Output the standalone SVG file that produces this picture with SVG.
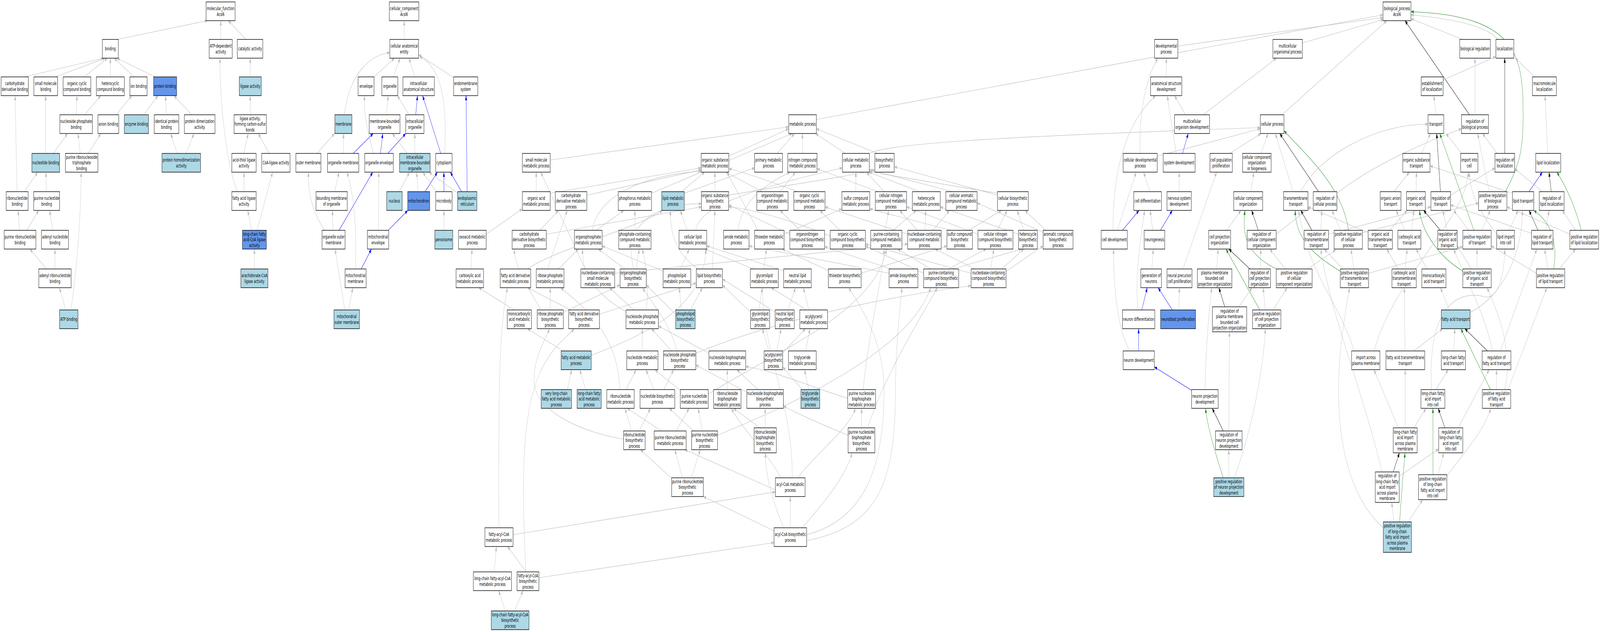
<svg xmlns="http://www.w3.org/2000/svg" width="7220" height="1619" viewBox="0 0 7220 1619" preserveAspectRatio="none">
<style>
svg{width:100vw;height:100vh}
.n rect{fill:#ffffff;stroke:#000000;stroke-width:1.4}
.n.lb rect{fill:#add8e6}
.n.cf rect{fill:#6495ed}
.n text{font-family:"DejaVu Sans","Liberation Sans",sans-serif;font-size:13px;text-anchor:middle;fill:#000000}
#edges path{fill:none;stroke:#bebebe;stroke-width:1.2;marker-end:url(#ag)}
#edges path.b{stroke:#0000ff;marker-end:url(#ab)}
#edges path.k{stroke:#000000;marker-end:url(#ak)}
#edges path.g{stroke:#228b22;marker-end:url(#agr)}
</style>
<defs>
<marker id="ag" viewBox="0 0 12 9" refX="12" refY="4.5" markerWidth="12" markerHeight="9" markerUnits="userSpaceOnUse" orient="auto"><path d="M0,0L12,4.5L0,9z" fill="#bebebe"/></marker>
<marker id="ab" viewBox="0 0 12 9" refX="12" refY="4.5" markerWidth="12" markerHeight="9" markerUnits="userSpaceOnUse" orient="auto"><path d="M0,0L12,4.5L0,9z" fill="#0000ff"/></marker>
<marker id="ak" viewBox="0 0 12 9" refX="12" refY="4.5" markerWidth="12" markerHeight="9" markerUnits="userSpaceOnUse" orient="auto"><path d="M0,0L12,4.5L0,9z" fill="#000000"/></marker>
<marker id="agr" viewBox="0 0 12 9" refX="12" refY="4.5" markerWidth="12" markerHeight="9" markerUnits="userSpaceOnUse" orient="auto"><path d="M0,0L12,4.5L0,9z" fill="#228b22"/></marker>
</defs>
<rect x="0" y="0" width="7220" height="1619" fill="#ffffff"/>
<g id="edges">
<path d="M528,101 L936,53"/>
<path d="M996,101 L996,53"/>
<path d="M1110,101 L1030,53"/>
<path d="M110,197 L468,149"/>
<path d="M250,197 L475,149"/>
<path d="M380,197 L485,149"/>
<path d="M498,197 L498,149"/>
<path d="M605,197 L515,149"/>
<path d="M700,197 L528,149"/>
<path d="M1129,197 L1129,149"/>
<path d="M345,294 L347,245"/>
<path d="M382,294 L455,245"/>
<path d="M524,294 L595,245"/>
<path d="M648,294 L713,245"/>
<path d="M750,294 L747,245"/>
<path d="M865,294 L785,245"/>
<path d="M1129,294 L1129,245"/>
<path d="M240,393 L305,342"/>
<path d="M206,393 L206,245"/>
<path d="M362,393 L352,342"/>
<path d="M398,393 L455,342"/>
<path d="M800,393 L770,342"/>
<path d="M840,393 L875,342"/>
<path d="M1100,393 L1120,342"/>
<path d="M1215,393 L1165,342"/>
<path d="M77,491 L68,245"/>
<path d="M110,491 L170,441"/>
<path d="M209,491 L207,441"/>
<path d="M1101,491 L1101,441"/>
<path d="M1071,491 C1020,420 990,250 993,149"/>
<path d="M88,590 L82,539"/>
<path d="M120,590 L175,539"/>
<path d="M238,590 L224,539"/>
<path d="M1136,590 L1118,539"/>
<path d="M1160,590 L1230,441"/>
<path d="M210,689 L135,638"/>
<path d="M248,689 L248,638"/>
<path d="M1148,689 L1148,638"/>
<path d="M297,794 L268,737"/>
<path d="M320,794 C345,700 365,560 366,441"/>
<path d="M1824,101 L1824,53"/>
<path d="M1553,294 C1580,180 1680,140 1759,135"/>
<path d="M1688,197 L1780,149"/>
<path d="M1775,197 L1805,149"/>
<path d="M1872,197 L1845,149"/>
<path d="M2047,199 L1889,140"/>
<path d="M2006,393 C2020,260 1990,170 1893,145"/>
<path d="M1742,294 L1752,245"/>
<path d="M1845,294 L1793,245"/>
<path class="b" d="M1876,294 L1884,245"/>
<path class="b" d="M1989,393 L1907,245"/>
<path class="b" d="M2108,491 L2103,245"/>
<path d="M1430,393 L1510,342"/>
<path d="M1550,393 L1550,342"/>
<path class="b" d="M1594,393 L1684,342"/>
<path class="b" d="M1717,393 L1727,342"/>
<path class="b" d="M1750,393 L1831,342"/>
<path d="M1685,393 C1650,320 1640,280 1646,245"/>
<path d="M1838,393 L1770,342"/>
<path d="M1872,393 L1872,342"/>
<path d="M1510,491 L1530,441"/>
<path d="M1802,491 L1848,441"/>
<path d="M1887,491 L1880,441"/>
<path class="b" d="M1918,491 L1974,441"/>
<path d="M1968,491 L1908,441"/>
<path class="b" d="M2003,491 L2003,441"/>
<path d="M2065,495 L1936,441"/>
<path class="b" d="M2083,491 L2032,441"/>
<path d="M1464,590 C1410,540 1390,500 1392,441"/>
<path d="M1503,590 L1500,539"/>
<path class="b" d="M1530,590 L1682,441"/>
<path class="b" d="M1752,590 L1840,539"/>
<path d="M1708,590 L1709,441"/>
<path d="M2003,590 L2003,539"/>
<path class="b" d="M1630,689 L1676,638"/>
<path d="M1604,689 C1610,600 1600,500 1565,441"/>
<path d="M1556,794 L1512,638"/>
<path d="M1573,794 L1592,737"/>
<path d="M3684,306 L6241,38"/>
<path d="M5315,118 L6241,45"/>
<path d="M5877,110 L6243,50"/>
<path d="M5785,294 L6258,53"/>
<path d="M6600,101 L6367,48"/>
<path d="M6760,101 C6700,60 6500,45 6367,38"/>
<path class="k" d="M6631,294 L6340,53"/>
<path class="g" d="M6792,492 C6860,420 6873,380 6873,300 C6873,150 6860,40 6367,30"/>
<path d="M6512,205 L6750,145"/>
<path d="M6925,197 L6838,149"/>
<path d="M6480,294 L6470,245"/>
<path d="M6656,294 L6656,149"/>
<path d="M6595,393 L6525,342"/>
<path d="M6415,393 L6455,342"/>
<path class="k" d="M6790,393 L6790,149"/>
<path d="M6756,393 L6690,342"/>
<path d="M6984,393 L6972,245"/>
<path class="b" d="M6900,491 L6960,441"/>
<path class="k" d="M7000,491 L6990,441"/>
<path class="g" d="M7135,590 C7110,530 7060,470 7025,441"/>
<path d="M7110,590 L7050,539"/>
<path d="M7084,600 L6800,530"/>
<path d="M6960,491 L6835,432"/>
<path d="M6825,495 L6453,425"/>
<path d="M6290,491 L6360,441"/>
<path d="M6390,491 L6392,441"/>
<path class="k" d="M6500,491 L6483,342"/>
<path d="M6546,500 L6746,430"/>
<path d="M6720,491 L6668,342"/>
<path d="M6033,495 C6200,420 6450,360 6595,330"/>
<path d="M5870,491 C5950,400 6200,318 6444,318"/>
<path class="g" d="M6651,590 L6497,342"/>
<path d="M6628,590 L6560,539"/>
<path d="M6685,590 L6725,539"/>
<path class="k" d="M6500,590 L6424,539"/>
<path d="M6530,590 L6511,539"/>
<path d="M6370,590 L6380,539"/>
<path d="M6340,590 L6300,539"/>
<path d="M6270,590 L6350,539"/>
<path d="M6174,596 L5902,530"/>
<path d="M6754,600 C6700,560 6630,500 6630,441"/>
<path d="M6810,590 L6850,539"/>
<path class="k" d="M6940,590 L6900,539"/>
<path d="M6975,590 L6990,539"/>
<path d="M6911,598 L6546,525"/>
<path class="g" d="M7011,689 C7030,620 7000,570 6921,539"/>
<path d="M6985,689 L6970,638"/>
<path d="M7035,689 L7110,638"/>
<path d="M6933,700 L6729,630"/>
<path class="g" d="M6085,590 C6060,480 5900,400 5794,335"/>
<path d="M6050,590 L6010,539"/>
<path d="M6148,596 L6672,520"/>
<path class="k" d="M5920,590 L5870,539"/>
<path d="M5995,600 L6457,530"/>
<path d="M5960,590 L5965,539"/>
<path d="M6060,689 L5975,638"/>
<path class="g" d="M6048,695 C5950,660 5845,620 5845,539"/>
<path d="M6176,700 L6601,632"/>
<path d="M6110,689 L6096,638"/>
<path d="M6340,689 L6350,638"/>
<path d="M6310,689 L6258,638"/>
<path d="M6440,689 L6390,638"/>
<path class="g" d="M6602,695 C6500,660 6420,600 6405,539"/>
<path d="M6640,689 L6576,630"/>
<path d="M6665,689 L6665,638"/>
<path d="M6540,794 L6500,737"/>
<path d="M6634,800 C6780,760 6870,650 6870,539"/>
<path d="M6110,899 C6050,780 5900,700 5860,539"/>
<path d="M6200,899 C6300,700 6620,560 6625,441"/>
<path d="M6380,899 L6510,842"/>
<path d="M6340,899 L6337,737"/>
<path d="M6560,899 L6565,842"/>
<path class="k" d="M6712,899 L6610,842"/>
<path d="M6735,899 C6700,800 6600,700 6560,638"/>
<path d="M6770,899 L6935,638"/>
<path d="M6753,998 L6753,947"/>
<path class="g" d="M6726,998 L6592,842"/>
<path d="M6790,998 C6830,900 6760,800 6710,737"/>
<path d="M6805,998 L6980,737"/>
<path d="M6480,998 L6535,947"/>
<path d="M6460,998 C6440,800 6560,740 6700,760 C6760,770 6790,700 6790,638"/>
<path d="M6310,1096 L6200,947"/>
<path d="M6341,1096 L6341,947"/>
<path d="M6380,1096 L6435,1046"/>
<path class="k" d="M6520,1096 L6490,1046"/>
<path d="M6580,1096 L6720,947"/>
<path class="k" d="M6287,1209 L6315,1160"/>
<path d="M6314,1220 L6492,1150"/>
<path d="M6236,1209 C6150,1000 6000,800 5960,638"/>
<path class="g" d="M6466,1216 L6466,1046"/>
<path d="M6488,1216 L6515,1160"/>
<path d="M6528,1220 C6620,1150 6700,1100 6727,1046"/>
<path d="M6290,1337 L6280,1287"/>
<path class="g" d="M6316,1337 C6325,1250 6335,1200 6340,1160"/>
<path d="M6355,1337 L6420,1280"/>
<path d="M6242,1352 C6100,1280 6040,1150 6040,1000 C6040,900 6070,800 6090,737"/>
<path d="M5263,197 L5263,149"/>
<path d="M5144,393 C5140,290 5170,200 5225,149"/>
<path d="M5350,294 L5300,245"/>
<path d="M5430,294 L5760,149"/>
<path d="M5308,393 C5290,330 5275,280 5268,245"/>
<path class="b" d="M5336,393 L5362,342"/>
<path d="M5222,400 L5687,330"/>
<path d="M5550,393 L5690,342"/>
<path d="M5690,393 L5722,342"/>
<path d="M5835,491 L5755,342"/>
<path class="k" d="M5950,491 L5775,342"/>
<path d="M3923,393 C4000,370 4400,352 5687,327"/>
<path d="M5190,491 L5160,441"/>
<path d="M5042,590 L5127,441"/>
<path d="M5023,590 C5020,400 5110,300 5215,245"/>
<path class="b" d="M5065,590 L5140,539"/>
<path d="M5321,491 L5321,441"/>
<path d="M5202,590 L5190,539"/>
<path class="b" d="M5236,590 L5290,539"/>
<path d="M5135,794 C5120,700 5150,600 5165,539"/>
<path class="b" d="M5152,794 L5177,737"/>
<path d="M5198,689 L5204,638"/>
<path class="b" d="M5290,794 L5226,737"/>
<path d="M5320,794 L5322,737"/>
<path d="M5338,689 L5490,441"/>
<path d="M5535,590 L5600,539"/>
<path d="M5645,491 L5658,441"/>
<path class="k" d="M5678,590 L5648,539"/>
<path d="M5759,600 L5915,530"/>
<path class="g" d="M5760,689 C5620,650 5605,600 5618,539"/>
<path d="M5800,689 L5730,638"/>
<path d="M5900,689 L6028,640"/>
<path d="M5490,689 L5497,638"/>
<path class="k" d="M5640,689 L5545,638"/>
<path d="M5686,689 L5690,638"/>
<path class="g" d="M5685,794 L5532,638"/>
<path d="M5710,794 L5700,737"/>
<path d="M5745,794 L5808,737"/>
<path class="k" d="M5527,786 L5500,737"/>
<path d="M5590,786 L5650,737"/>
<path class="b" d="M5138,899 L5138,842"/>
<path d="M5098,899 C5050,850 5025,760 5025,638"/>
<path class="b" d="M5377,1000 L5209,940"/>
<path d="M5438,998 C5440,900 5455,800 5468,737"/>
<path class="k" d="M5520,1104 L5470,1046"/>
<path d="M5545,1104 L5548,850"/>
<path class="g" d="M5520,1224 C5490,1170 5450,1100 5440,1046"/>
<path d="M5545,1224 L5545,1152"/>
<path d="M5570,1224 C5650,1100 5700,950 5710,842"/>
<path d="M2483,410 L3559,325"/>
<path d="M3289,400 L3559,330"/>
<path d="M3507,393 L3585,342"/>
<path d="M3621,393 L3621,342"/>
<path d="M3815,393 L3680,342"/>
<path d="M3960,393 L3684,330"/>
<path d="M2420,491 L2420,441"/>
<path d="M2483,495 L3164,430"/>
<path d="M2648,500 L3164,435"/>
<path d="M2940,495 L3575,342"/>
<path d="M3075,491 L3180,441"/>
<path d="M3088,495 L3405,430"/>
<path d="M3226,491 L3226,441"/>
<path d="M3288,500 C3600,470 3850,450 3948,435"/>
<path d="M3440,491 L3275,441"/>
<path d="M3520,491 L3590,441"/>
<path d="M3600,491 C3500,470 3350,440 3289,432"/>
<path d="M3862,491 L3862,441"/>
<path d="M3960,491 L3687,432"/>
<path d="M3990,491 L3910,441"/>
<path d="M4150,491 L3920,441"/>
<path d="M4300,491 L3923,435"/>
<path d="M4501,495 L3923,440"/>
<path d="M4501,500 L4035,427"/>
<path d="M2194,600 L2357,535"/>
<path d="M2436,590 L2520,539"/>
<path d="M2465,600 L3165,530"/>
<path d="M2690,590 L2815,539"/>
<path d="M2672,590 C2700,500 2900,450 3164,438"/>
<path d="M2865,590 L2865,539"/>
<path d="M3100,590 L3070,539"/>
<path d="M3140,590 C3150,520 3500,470 3801,430"/>
<path d="M3330,590 C3350,500 3500,460 3565,441"/>
<path d="M3420,590 L3280,441"/>
<path d="M3538,600 L3799,535"/>
<path d="M3610,590 L3520,539"/>
<path d="M3564,600 L3288,525"/>
<path d="M3790,590 L3700,539"/>
<path d="M3746,605 C3600,570 3400,535 3288,530"/>
<path d="M3995,590 L4010,539"/>
<path d="M4030,590 L4135,539"/>
<path d="M4140,590 L4060,539"/>
<path d="M4175,590 L4177,539"/>
<path d="M4210,590 L4285,539"/>
<path d="M4096,600 L3723,530"/>
<path d="M4290,590 L3925,535"/>
<path d="M4370,590 L4520,539"/>
<path d="M4413,600 L4091,530"/>
<path d="M4596,600 L4243,530"/>
<path d="M4707,595 L4409,520"/>
<path d="M4500,590 L4545,539"/>
<path d="M4620,590 L4590,539"/>
<path d="M4720,590 L4625,539"/>
<path d="M2125,689 L2130,638"/>
<path d="M2380,689 C2500,640 2900,580 2990,539"/>
<path d="M2470,689 L2560,539"/>
<path d="M2520,689 L2610,638"/>
<path d="M2640,689 L2440,441"/>
<path d="M2774,700 L4096,625"/>
<path d="M2820,689 L2700,638"/>
<path d="M2860,689 C2800,560 3000,520 3165,522"/>
<path d="M2870,689 L2885,638"/>
<path d="M3070,689 L3110,638"/>
<path d="M2995,695 L2717,630"/>
<path d="M3150,689 C3050,650 3025,600 3025,539"/>
<path d="M3215,689 L3226,539"/>
<path d="M3400,689 L3180,638"/>
<path d="M3545,695 L3189,630"/>
<path d="M3745,695 L3530,638"/>
<path d="M3886,700 L4273,630"/>
<path d="M4012,700 L3380,630"/>
<path d="M4020,689 L3721,632"/>
<path d="M4200,689 L4050,638"/>
<path d="M4168,700 L3905,630"/>
<path d="M4300,689 L4610,638"/>
<path d="M4280,689 L4450,638"/>
<path d="M4400,689 L4220,638"/>
<path d="M4470,689 L4485,638"/>
<path d="M4520,689 L4620,638"/>
<path d="M4540,695 L4707,630"/>
<path d="M4382,700 L3905,625"/>
<path d="M2320,794 L2160,737"/>
<path d="M2483,794 L2483,737"/>
<path d="M2440,794 C2390,740 2330,700 2320,638"/>
<path d="M2542,800 L2798,730"/>
<path d="M2575,794 L2380,737"/>
<path d="M2705,805 L3142,725"/>
<path d="M2915,794 C2930,740 2920,690 2898,638"/>
<path d="M2860,794 L2750,737"/>
<path d="M2830,800 C2700,760 2620,700 2630,638"/>
<path d="M3075,794 L3065,737"/>
<path d="M3115,794 L3170,737"/>
<path d="M3049,805 L2916,730"/>
<path d="M3425,794 L3440,737"/>
<path d="M3387,800 L3260,730"/>
<path d="M3555,794 L3590,737"/>
<path d="M3500,800 L3260,715"/>
<path d="M3640,794 L3480,737"/>
<path d="M3650,794 L3625,737"/>
<path d="M2540,899 L2380,842"/>
<path d="M2668,910 C2900,860 3180,790 3185,638"/>
<path d="M2898,899 L2898,842"/>
<path d="M3030,899 L2940,842"/>
<path d="M3055,899 C3020,820 2930,770 2900,737"/>
<path d="M3140,905 C3500,820 4000,760 4382,732"/>
<path d="M3199,905 L2971,835"/>
<path d="M3470,899 L3440,842"/>
<path d="M3505,899 L3525,842"/>
<path d="M3530,905 L3635,842"/>
<path d="M3635,899 L3655,842"/>
<path d="M2560,998 L2580,947"/>
<path d="M2643,998 L2616,947"/>
<path d="M2825,998 L2870,947"/>
<path d="M2797,998 C2790,850 2620,780 2530,737"/>
<path d="M2950,998 L2915,947"/>
<path d="M2995,998 L3040,947"/>
<path d="M3080,1005 L2955,947"/>
<path d="M3196,1010 C3500,900 3950,800 4000,638"/>
<path d="M3282,998 L3282,947"/>
<path d="M3420,998 L3325,947"/>
<path d="M3370,1005 L3140,935"/>
<path d="M3650,998 L3630,947"/>
<path d="M3620,998 L3532,940"/>
<path d="M3825,1020 C3700,1000 3500,950 3365,939"/>
<path d="M3895,998 C3920,850 3980,720 3990,638"/>
<path d="M2850,1104 L2820,1046"/>
<path d="M2885,1104 L2935,1046"/>
<path d="M2814,1125 C2650,1110 2420,1060 2410,980 C2405,920 2460,870 2480,842"/>
<path d="M2985,1104 L2830,1046"/>
<path d="M3050,1104 L3110,1046"/>
<path d="M3170,1104 L3150,1046"/>
<path d="M3130,1104 L3020,1046"/>
<path d="M3238,1115 C3600,1030 4100,900 4200,737"/>
<path d="M3430,1096 L3310,1046"/>
<path d="M3453,1096 L3453,1046"/>
<path d="M3888,1096 L3888,1046"/>
<path d="M3827,1115 C3720,1090 3600,1060 3535,1040"/>
<path d="M3915,1096 C4000,950 4150,820 4230,737"/>
<path d="M3080,1224 L3045,1152"/>
<path d="M3120,1224 L3160,1152"/>
<path d="M3040,1230 L2890,1152"/>
<path d="M3499,1255 L3090,1152"/>
<path d="M3525,1224 C3450,1150 3350,1100 3300,1046"/>
<path d="M3575,1224 C3580,1000 3380,850 3460,638"/>
<path d="M3600,1224 C3700,1150 3830,1100 3860,1046"/>
<path d="M3566,1352 L3566,1272"/>
<path d="M3493,1360 L3174,1272"/>
<path d="M3537,1352 C3480,1280 3450,1200 3455,1160"/>
<path d="M3620,1352 C3700,1300 3820,1220 3845,1160"/>
<path d="M3640,1370 C3900,1330 3989,1200 3989,1000 C3989,880 3900,800 3830,737"/>
<path d="M3640,1385 C3950,1350 4041,1250 4041,1000 C4041,880 4060,800 4070,737"/>
<path d="M2314,1370 L3499,1260"/>
<path d="M2251,1352 C2250,1000 2250,850 2290,737"/>
<path d="M2375,1465 L2290,1400"/>
<path d="M2432,1480 L3493,1390"/>
<path d="M2373,1465 C2350,1200 2360,1050 2440,950 C2500,880 2570,860 2590,842"/>
<path d="M2230,1465 L2240,1400"/>
<path d="M2280,1565 L2250,1513"/>
<path d="M2322,1565 L2360,1513"/>
</g>
<g id="nodes">
<g id="mf" class="n"><rect x="930" y="5" width="131" height="48"/><text x="995.5" y="26.25">molecular_function<tspan x="995.5" dy="14.5">Acsl6</tspan></text></g>
<g id="binding" class="n"><rect x="462" y="101" width="72" height="48"/><text x="498" y="129.5">binding</text></g>
<g id="atp_dep" class="n"><rect x="944" y="101" width="104" height="48"/><text x="996" y="122.25">ATP-dependent<tspan x="996" dy="14.5">activity</tspan></text></g>
<g id="catalytic" class="n"><rect x="1071" y="101" width="115" height="48"/><text x="1128.5" y="129.5">catalytic activity</text></g>
<g id="carb_deriv_binding" class="n"><rect x="5" y="197" width="123" height="48"/><text x="66.5" y="218.25">carbohydrate<tspan x="66.5" dy="14.5">derivative binding</tspan></text></g>
<g id="small_mol_binding" class="n"><rect x="153" y="197" width="107" height="48"/><text x="206.5" y="218.25">small molecule<tspan x="206.5" dy="14.5">binding</tspan></text></g>
<g id="org_cyclic_binding" class="n"><rect x="285" y="197" width="125" height="48"/><text x="347.5" y="218.25">organic cyclic<tspan x="347.5" dy="14.5">compound binding</tspan></text></g>
<g id="heterocyclic_binding" class="n"><rect x="435" y="197" width="126" height="48"/><text x="498" y="218.25">heterocyclic<tspan x="498" dy="14.5">compound binding</tspan></text></g>
<g id="ion_binding" class="n"><rect x="586" y="197" width="78" height="48"/><text x="625" y="225.5">ion binding</text></g>
<g id="protein_binding" class="n cf"><rect x="693" y="197" width="104" height="48"/><text x="745" y="225.5">protein binding</text></g>
<g id="ligase" class="n lb"><rect x="1080" y="197" width="99" height="48"/><text x="1129.5" y="225.5">ligase activity</text></g>
<g id="nucleoside_phos_binding" class="n"><rect x="270" y="294" width="147" height="48"/><text x="343.5" y="315.25">nucleoside phosphate<tspan x="343.5" dy="14.5">binding</tspan></text></g>
<g id="anion_binding" class="n"><rect x="442" y="294" width="94" height="48"/><text x="489" y="322.5">anion binding</text></g>
<g id="enzyme_binding" class="n lb"><rect x="561" y="294" width="109" height="48"/><text x="615.5" y="322.5">enzyme binding</text></g>
<g id="identical_protein" class="n"><rect x="696" y="294" width="111" height="48"/><text x="751.5" y="315.25">identical protein<tspan x="751.5" dy="14.5">binding</tspan></text></g>
<g id="protein_dimer" class="n"><rect x="832" y="294" width="138" height="48"/><text x="901" y="315.25">protein dimerization<tspan x="901" dy="14.5">activity</tspan></text></g>
<g id="ligase_cs" class="n"><rect x="1056" y="294" width="146" height="48"/><text x="1129" y="308">ligase activity,<tspan x="1129" dy="14.5">forming carbon-sulfur</tspan><tspan x="1129" dy="14.5">bonds</tspan></text></g>
<g id="nucleotide_binding" class="n lb"><rect x="144" y="393" width="125" height="48"/><text x="206.5" y="421.5">nucleotide binding</text></g>
<g id="purine_rnt_tp_binding" class="n"><rect x="295" y="393" width="147" height="48"/><text x="368.5" y="407">purine ribonucleoside<tspan x="368.5" dy="14.5">triphosphate</tspan><tspan x="368.5" dy="14.5">binding</tspan></text></g>
<g id="protein_homodimer" class="n lb"><rect x="731" y="393" width="174" height="48"/><text x="818" y="414.25">protein homodimerization<tspan x="818" dy="14.5">activity</tspan></text></g>
<g id="acid_thiol" class="n"><rect x="1046" y="393" width="110" height="48"/><text x="1101" y="414.25">acid-thiol ligase<tspan x="1101" dy="14.5">activity</tspan></text></g>
<g id="coa_ligase" class="n"><rect x="1181" y="393" width="128" height="48"/><text x="1245" y="421.5">CoA-ligase activity</text></g>
<g id="ribonucleotide_binding" class="n"><rect x="28" y="491" width="99" height="48"/><text x="77.5" y="512.25">ribonucleotide<tspan x="77.5" dy="14.5">binding</tspan></text></g>
<g id="purine_nt_binding" class="n"><rect x="152" y="491" width="117" height="48"/><text x="210.5" y="512.25">purine nucleotide<tspan x="210.5" dy="14.5">binding</tspan></text></g>
<g id="fa_ligase" class="n"><rect x="1046" y="491" width="110" height="48"/><text x="1101" y="512.25">fatty acid ligase<tspan x="1101" dy="14.5">activity</tspan></text></g>
<g id="purine_rnt_binding" class="n"><rect x="19" y="590" width="143" height="48"/><text x="90.5" y="611.25">purine ribonucleotide<tspan x="90.5" dy="14.5">binding</tspan></text></g>
<g id="adenyl_nt_binding" class="n"><rect x="187" y="590" width="122" height="48"/><text x="248" y="611.25">adenyl nucleotide<tspan x="248" dy="14.5">binding</tspan></text></g>
<g id="lcfa_coa_ligase" class="n cf"><rect x="1094" y="590" width="108" height="48"/><text x="1148" y="604">long-chain fatty<tspan x="1148" dy="14.5">acid-CoA ligase</tspan><tspan x="1148" dy="14.5">activity</tspan></text></g>
<g id="adenyl_rnt_binding" class="n"><rect x="175" y="689" width="146" height="48"/><text x="248" y="710.25">adenyl ribonucleotide<tspan x="248" dy="14.5">binding</tspan></text></g>
<g id="arachidonate" class="n lb"><rect x="1087" y="689" width="122" height="48"/><text x="1148" y="710.25">arachidonate-CoA<tspan x="1148" dy="14.5">ligase activity</tspan></text></g>
<g id="atp_binding" class="n lb"><rect x="269" y="794" width="83" height="48"/><text x="310.5" y="822.5">ATP binding</text></g>
<g id="cc" class="n"><rect x="1757" y="5" width="133" height="48"/><text x="1823.5" y="26.25">cellular_component<tspan x="1823.5" dy="14.5">Acsl6</tspan></text></g>
<g id="cae" class="n"><rect x="1759" y="101" width="130" height="48"/><text x="1824" y="122.25">cellular anatomical<tspan x="1824" dy="14.5">entity</tspan></text></g>
<g id="envelope" class="n"><rect x="1616" y="197" width="72" height="48"/><text x="1652" y="225.5">envelope</text></g>
<g id="organelle" class="n"><rect x="1723" y="197" width="72" height="48"/><text x="1759" y="225.5">organelle</text></g>
<g id="ias" class="n"><rect x="1818" y="197" width="142" height="48"/><text x="1889" y="218.25">intracellular<tspan x="1889" dy="14.5">anatomical structure</tspan></text></g>
<g id="endomembrane" class="n"><rect x="2047" y="197" width="109" height="48"/><text x="2101.5" y="218.25">endomembrane<tspan x="2101.5" dy="14.5">system</tspan></text></g>
<g id="membrane" class="n lb"><rect x="1511" y="294" width="77" height="48"/><text x="1549.5" y="322.5">membrane</text></g>
<g id="mbo" class="n"><rect x="1666" y="294" width="139" height="48"/><text x="1735.5" y="315.25">membrane-bounded<tspan x="1735.5" dy="14.5">organelle</tspan></text></g>
<g id="intra_org" class="n"><rect x="1831" y="294" width="82" height="48"/><text x="1872" y="315.25">intracellular<tspan x="1872" dy="14.5">organelle</tspan></text></g>
<g id="outer_membrane" class="n"><rect x="1335" y="393" width="113" height="48"/><text x="1391.5" y="421.5">outer membrane</text></g>
<g id="organelle_membrane" class="n"><rect x="1478" y="393" width="141" height="48"/><text x="1548.5" y="421.5">organelle membrane</text></g>
<g id="organelle_envelope" class="n"><rect x="1646" y="393" width="129" height="48"/><text x="1710.5" y="421.5">organelle envelope</text></g>
<g id="imbo" class="n lb"><rect x="1803" y="393" width="138" height="48"/><text x="1872" y="407">intracellular<tspan x="1872" dy="14.5">membrane-bounded</tspan><tspan x="1872" dy="14.5">organelle</tspan></text></g>
<g id="cytoplasm" class="n"><rect x="1966" y="393" width="74" height="48"/><text x="2003" y="421.5">cytoplasm</text></g>
<g id="bounding_membrane" class="n"><rect x="1426" y="491" width="141" height="48"/><text x="1496.5" y="512.25">bounding membrane<tspan x="1496.5" dy="14.5">of organelle</tspan></text></g>
<g id="nucleus" class="n lb"><rect x="1745" y="491" width="70" height="48"/><text x="1780" y="519.5">nucleus</text></g>
<g id="mitochondrion" class="n cf"><rect x="1840" y="491" width="99" height="48"/><text x="1889.5" y="519.5">mitochondrion</text></g>
<g id="microbody" class="n"><rect x="1966" y="491" width="74" height="48"/><text x="2003" y="519.5">microbody</text></g>
<g id="er" class="n lb"><rect x="2065" y="491" width="87" height="48"/><text x="2108.5" y="512.25">endoplasmic<tspan x="2108.5" dy="14.5">reticulum</tspan></text></g>
<g id="org_outer_membrane" class="n"><rect x="1453" y="590" width="104" height="48"/><text x="1505" y="611.25">organelle outer<tspan x="1505" dy="14.5">membrane</tspan></text></g>
<g id="mito_envelope" class="n"><rect x="1658" y="590" width="96" height="48"/><text x="1706" y="611.25">mitochondrial<tspan x="1706" dy="14.5">envelope</tspan></text></g>
<g id="peroxisome" class="n lb"><rect x="1962" y="590" width="81" height="48"/><text x="2002.5" y="618.5">peroxisome</text></g>
<g id="mito_membrane" class="n"><rect x="1557" y="689" width="95" height="48"/><text x="1604.5" y="710.25">mitochondrial<tspan x="1604.5" dy="14.5">membrane</tspan></text></g>
<g id="mito_outer" class="n lb"><rect x="1507" y="794" width="115" height="48"/><text x="1564.5" y="815.25">mitochondrial<tspan x="1564.5" dy="14.5">outer membrane</tspan></text></g>
<g id="bp" class="n"><rect x="6241" y="5" width="126" height="48"/><text x="6304" y="26.25">biological_process<tspan x="6304" dy="14.5">Acsl6</tspan></text></g>
<g id="metabolic" class="n"><rect x="3559" y="294" width="125" height="48"/><text x="3621.5" y="322.5">metabolic process</text></g>
<g id="small_mol_met" class="n"><rect x="2357" y="393" width="126" height="48"/><text x="2420" y="414.25">small molecule<tspan x="2420" dy="14.5">metabolic process</tspan></text></g>
<g id="org_subst_met" class="n"><rect x="3164" y="393" width="125" height="48"/><text x="3226.5" y="414.25">organic substance<tspan x="3226.5" dy="14.5">metabolic process</tspan></text></g>
<g id="primary_met" class="n"><rect x="3405" y="393" width="126" height="48"/><text x="3468" y="414.25">primary metabolic<tspan x="3468" dy="14.5">process</tspan></text></g>
<g id="nitrogen_met" class="n"><rect x="3555" y="393" width="132" height="48"/><text x="3621" y="414.25">nitrogen compound<tspan x="3621" dy="14.5">metabolic process</tspan></text></g>
<g id="cellular_met" class="n"><rect x="3801" y="393" width="122" height="48"/><text x="3862" y="414.25">cellular metabolic<tspan x="3862" dy="14.5">process</tspan></text></g>
<g id="biosynthetic" class="n"><rect x="3948" y="393" width="87" height="48"/><text x="3991.5" y="414.25">biosynthetic<tspan x="3991.5" dy="14.5">process</tspan></text></g>
<g id="organic_acid_met" class="n"><rect x="2357" y="491" width="126" height="48"/><text x="2420" y="512.25">organic acid<tspan x="2420" dy="14.5">metabolic process</tspan></text></g>
<g id="carb_deriv_met" class="n"><rect x="2506" y="491" width="142" height="48"/><text x="2577" y="505">carbohydrate<tspan x="2577" dy="14.5">derivative metabolic</tspan><tspan x="2577" dy="14.5">process</tspan></text></g>
<g id="phosphorus_met" class="n"><rect x="2790" y="491" width="150" height="48"/><text x="2865" y="512.25">phosphorus metabolic<tspan x="2865" dy="14.5">process</tspan></text></g>
<g id="lipid_met" class="n lb"><rect x="2986" y="491" width="102" height="48"/><text x="3037" y="512.25">lipid metabolic<tspan x="3037" dy="14.5">process</tspan></text></g>
<g id="org_subst_bio" class="n"><rect x="3165" y="491" width="123" height="48"/><text x="3226.5" y="505">organic substance<tspan x="3226.5" dy="14.5">biosynthetic</tspan><tspan x="3226.5" dy="14.5">process</tspan></text></g>
<g id="organonitrogen_met" class="n"><rect x="3415" y="491" width="141" height="48"/><text x="3485.5" y="505">organonitrogen<tspan x="3485.5" dy="14.5">compound metabolic</tspan><tspan x="3485.5" dy="14.5">process</tspan></text></g>
<g id="org_cyclic_met" class="n"><rect x="3582" y="491" width="141" height="48"/><text x="3652.5" y="505">organic cyclic<tspan x="3652.5" dy="14.5">compound metabolic</tspan><tspan x="3652.5" dy="14.5">process</tspan></text></g>
<g id="sulfur_met" class="n"><rect x="3799" y="491" width="126" height="48"/><text x="3862" y="512.25">sulfur compound<tspan x="3862" dy="14.5">metabolic process</tspan></text></g>
<g id="cell_nitrogen_met" class="n"><rect x="3950" y="491" width="141" height="48"/><text x="4020.5" y="505">cellular nitrogen<tspan x="4020.5" dy="14.5">compound metabolic</tspan><tspan x="4020.5" dy="14.5">process</tspan></text></g>
<g id="heterocycle_met" class="n"><rect x="4117" y="491" width="126" height="48"/><text x="4180" y="512.25">heterocycle<tspan x="4180" dy="14.5">metabolic process</tspan></text></g>
<g id="cell_aromatic_met" class="n"><rect x="4268" y="491" width="141" height="48"/><text x="4338.5" y="505">cellular aromatic<tspan x="4338.5" dy="14.5">compound metabolic</tspan><tspan x="4338.5" dy="14.5">process</tspan></text></g>
<g id="cellular_bio" class="n"><rect x="4501" y="491" width="139" height="48"/><text x="4570.5" y="512.25">cellular biosynthetic<tspan x="4570.5" dy="14.5">process</tspan></text></g>
<g id="oxoacid_met" class="n"><rect x="2069" y="590" width="125" height="48"/><text x="2131.5" y="611.25">oxoacid metabolic<tspan x="2131.5" dy="14.5">process</tspan></text></g>
<g id="carb_deriv_bio" class="n"><rect x="2311" y="590" width="154" height="48"/><text x="2388" y="604">carbohydrate<tspan x="2388" dy="14.5">derivative biosynthetic</tspan><tspan x="2388" dy="14.5">process</tspan></text></g>
<g id="organophosphate_met" class="n"><rect x="2592" y="590" width="125" height="48"/><text x="2654.5" y="611.25">organophosphate<tspan x="2654.5" dy="14.5">metabolic process</tspan></text></g>
<g id="phosphate_cont_met" class="n"><rect x="2792" y="590" width="146" height="48"/><text x="2865" y="604">phosphate-containing<tspan x="2865" dy="14.5">compound metabolic</tspan><tspan x="2865" dy="14.5">process</tspan></text></g>
<g id="cell_lipid_met" class="n"><rect x="3064" y="590" width="125" height="48"/><text x="3126.5" y="611.25">cellular lipid<tspan x="3126.5" dy="14.5">metabolic process</tspan></text></g>
<g id="amide_met" class="n"><rect x="3265" y="590" width="115" height="48"/><text x="3322.5" y="611.25">amide metabolic<tspan x="3322.5" dy="14.5">process</tspan></text></g>
<g id="thioester_met" class="n"><rect x="3405" y="590" width="133" height="48"/><text x="3471.5" y="611.25">thioester metabolic<tspan x="3471.5" dy="14.5">process</tspan></text></g>
<g id="organonitrogen_bio" class="n"><rect x="3564" y="590" width="157" height="48"/><text x="3642.5" y="604">organonitrogen<tspan x="3642.5" dy="14.5">compound biosynthetic</tspan><tspan x="3642.5" dy="14.5">process</tspan></text></g>
<g id="org_cyclic_bio" class="n"><rect x="3746" y="590" width="159" height="48"/><text x="3825.5" y="604">organic cyclic<tspan x="3825.5" dy="14.5">compound biosynthetic</tspan><tspan x="3825.5" dy="14.5">process</tspan></text></g>
<g id="purine_cont_met" class="n"><rect x="3929" y="590" width="141" height="48"/><text x="3999.5" y="604">purine-containing<tspan x="3999.5" dy="14.5">compound metabolic</tspan><tspan x="3999.5" dy="14.5">process</tspan></text></g>
<g id="nucleobase_cont_met" class="n"><rect x="4096" y="590" width="151" height="48"/><text x="4171.5" y="604">nucleobase-containing<tspan x="4171.5" dy="14.5">compound metabolic</tspan><tspan x="4171.5" dy="14.5">process</tspan></text></g>
<g id="sulfur_bio" class="n"><rect x="4273" y="590" width="115" height="48"/><text x="4330.5" y="604">sulfur compound<tspan x="4330.5" dy="14.5">biosynthetic</tspan><tspan x="4330.5" dy="14.5">process</tspan></text></g>
<g id="cell_nitrogen_bio" class="n"><rect x="4413" y="590" width="158" height="48"/><text x="4492" y="604">cellular nitrogen<tspan x="4492" dy="14.5">compound biosynthetic</tspan><tspan x="4492" dy="14.5">process</tspan></text></g>
<g id="heterocycle_bio" class="n"><rect x="4596" y="590" width="85" height="48"/><text x="4638.5" y="604">heterocycle<tspan x="4638.5" dy="14.5">biosynthetic</tspan><tspan x="4638.5" dy="14.5">process</tspan></text></g>
<g id="aromatic_bio" class="n"><rect x="4707" y="590" width="135" height="48"/><text x="4774.5" y="604">aromatic compound<tspan x="4774.5" dy="14.5">biosynthetic</tspan><tspan x="4774.5" dy="14.5">process</tspan></text></g>
<g id="carboxylic_met" class="n"><rect x="2058" y="689" width="124" height="48"/><text x="2120" y="710.25">carboxylic acid<tspan x="2120" dy="14.5">metabolic process</tspan></text></g>
<g id="fa_deriv_met" class="n"><rect x="2257" y="689" width="138" height="48"/><text x="2326" y="710.25">fatty acid derivative<tspan x="2326" dy="14.5">metabolic process</tspan></text></g>
<g id="ribose_p_met" class="n"><rect x="2420" y="689" width="125" height="48"/><text x="2482.5" y="710.25">ribose phosphate<tspan x="2482.5" dy="14.5">metabolic process</tspan></text></g>
<g id="nucleobase_sm_met" class="n"><rect x="2621" y="689" width="153" height="48"/><text x="2697.5" y="703">nucleobase-containing<tspan x="2697.5" dy="14.5">small molecule</tspan><tspan x="2697.5" dy="14.5">metabolic process</tspan></text></g>
<g id="organophosphate_bio" class="n"><rect x="2798" y="689" width="118" height="48"/><text x="2857" y="703">organophosphate<tspan x="2857" dy="14.5">biosynthetic</tspan><tspan x="2857" dy="14.5">process</tspan></text></g>
<g id="phospholipid_met" class="n"><rect x="2992" y="689" width="125" height="48"/><text x="3054.5" y="710.25">phospholipid<tspan x="3054.5" dy="14.5">metabolic process</tspan></text></g>
<g id="lipid_bio" class="n"><rect x="3142" y="689" width="118" height="48"/><text x="3201" y="710.25">lipid biosynthetic<tspan x="3201" dy="14.5">process</tspan></text></g>
<g id="glycerolipid_met" class="n"><rect x="3386" y="689" width="126" height="48"/><text x="3449" y="710.25">glycerolipid<tspan x="3449" dy="14.5">metabolic process</tspan></text></g>
<g id="neutral_lipid_met" class="n"><rect x="3536" y="689" width="125" height="48"/><text x="3598.5" y="710.25">neutral lipid<tspan x="3598.5" dy="14.5">metabolic process</tspan></text></g>
<g id="thioester_bio" class="n"><rect x="3738" y="689" width="148" height="48"/><text x="3812" y="710.25">thioester biosynthetic<tspan x="3812" dy="14.5">process</tspan></text></g>
<g id="amide_bio" class="n"><rect x="4012" y="689" width="130" height="48"/><text x="4077" y="710.25">amide biosynthetic<tspan x="4077" dy="14.5">process</tspan></text></g>
<g id="purine_cont_bio" class="n"><rect x="4168" y="689" width="158" height="48"/><text x="4247" y="703">purine-containing<tspan x="4247" dy="14.5">compound biosynthetic</tspan><tspan x="4247" dy="14.5">process</tspan></text></g>
<g id="nucleobase_cont_bio" class="n"><rect x="4382" y="689" width="158" height="48"/><text x="4461" y="703">nucleobase-containing<tspan x="4461" dy="14.5">compound biosynthetic</tspan><tspan x="4461" dy="14.5">process</tspan></text></g>
<g id="monocarboxylic_met" class="n"><rect x="2289" y="794" width="109" height="48"/><text x="2343.5" y="808">monocarboxylic<tspan x="2343.5" dy="14.5">acid metabolic</tspan><tspan x="2343.5" dy="14.5">process</tspan></text></g>
<g id="ribose_p_bio" class="n"><rect x="2424" y="794" width="118" height="48"/><text x="2483" y="808">ribose phosphate<tspan x="2483" dy="14.5">biosynthetic</tspan><tspan x="2483" dy="14.5">process</tspan></text></g>
<g id="fa_deriv_bio" class="n"><rect x="2566" y="794" width="139" height="48"/><text x="2635.5" y="808">fatty acid derivative<tspan x="2635.5" dy="14.5">biosynthetic</tspan><tspan x="2635.5" dy="14.5">process</tspan></text></g>
<g id="nucleoside_p_met" class="n"><rect x="2825" y="794" width="146" height="48"/><text x="2898" y="815.25">nucleoside phosphate<tspan x="2898" dy="14.5">metabolic process</tspan></text></g>
<g id="phospholipid_bio" class="n lb"><rect x="3049" y="794" width="88" height="48"/><text x="3093" y="808">phospholipid<tspan x="3093" dy="14.5">biosynthetic</tspan><tspan x="3093" dy="14.5">process</tspan></text></g>
<g id="glycerolipid_bio" class="n"><rect x="3387" y="794" width="86" height="48"/><text x="3430" y="808">glycerolipid<tspan x="3430" dy="14.5">biosynthetic</tspan><tspan x="3430" dy="14.5">process</tspan></text></g>
<g id="neutral_lipid_bio" class="n"><rect x="3498" y="794" width="86" height="48"/><text x="3541" y="808">neutral lipid<tspan x="3541" dy="14.5">biosynthetic</tspan><tspan x="3541" dy="14.5">process</tspan></text></g>
<g id="acylglycerol_met" class="n"><rect x="3609" y="794" width="125" height="48"/><text x="3671.5" y="815.25">acylglycerol<tspan x="3671.5" dy="14.5">metabolic process</tspan></text></g>
<g id="fa_met" class="n lb"><rect x="2532" y="899" width="136" height="48"/><text x="2600" y="920.25">fatty acid metabolic<tspan x="2600" dy="14.5">process</tspan></text></g>
<g id="nucleotide_met" class="n"><rect x="2828" y="899" width="141" height="48"/><text x="2898.5" y="920.25">nucleotide metabolic<tspan x="2898.5" dy="14.5">process</tspan></text></g>
<g id="nucleoside_p_bio" class="n"><rect x="2994" y="899" width="146" height="48"/><text x="3067" y="913">nucleoside phosphate<tspan x="3067" dy="14.5">biosynthetic</tspan><tspan x="3067" dy="14.5">process</tspan></text></g>
<g id="nucleoside_bp_met" class="n"><rect x="3199" y="899" width="166" height="48"/><text x="3282" y="920.25">nucleoside bisphosphate<tspan x="3282" dy="14.5">metabolic process</tspan></text></g>
<g id="acylglycerol_bio" class="n"><rect x="3448" y="899" width="84" height="48"/><text x="3490" y="913">acylglycerol<tspan x="3490" dy="14.5">biosynthetic</tspan><tspan x="3490" dy="14.5">process</tspan></text></g>
<g id="triglyceride_met" class="n"><rect x="3558" y="899" width="125" height="48"/><text x="3620.5" y="920.25">triglyceride<tspan x="3620.5" dy="14.5">metabolic process</tspan></text></g>
<g id="vlcfa_met" class="n lb"><rect x="2442" y="998" width="137" height="48"/><text x="2510.5" y="1012">very long-chain<tspan x="2510.5" dy="14.5">fatty acid metabolic</tspan><tspan x="2510.5" dy="14.5">process</tspan></text></g>
<g id="lcfa_met" class="n lb"><rect x="2604" y="998" width="109" height="48"/><text x="2658.5" y="1012">long-chain fatty<tspan x="2658.5" dy="14.5">acid metabolic</tspan><tspan x="2658.5" dy="14.5">process</tspan></text></g>
<g id="ribonucleotide_met" class="n"><rect x="2738" y="998" width="124" height="48"/><text x="2800" y="1019.25">ribonucleotide<tspan x="2800" dy="14.5">metabolic process</tspan></text></g>
<g id="nucleotide_bio" class="n"><rect x="2888" y="998" width="157" height="48"/><text x="2966.5" y="1019.25">nucleotide biosynthetic<tspan x="2966.5" dy="14.5">process</tspan></text></g>
<g id="purine_nt_met" class="n"><rect x="3070" y="998" width="126" height="48"/><text x="3133" y="1019.25">purine nucleotide<tspan x="3133" dy="14.5">metabolic process</tspan></text></g>
<g id="ribonucleoside_bp_met" class="n"><rect x="3220" y="998" width="124" height="48"/><text x="3282" y="1012">ribonucleoside<tspan x="3282" dy="14.5">bisphosphate</tspan><tspan x="3282" dy="14.5">metabolic process</tspan></text></g>
<g id="nucleoside_bp_bio" class="n"><rect x="3370" y="998" width="165" height="48"/><text x="3452.5" y="1012">nucleoside bisphosphate<tspan x="3452.5" dy="14.5">biosynthetic</tspan><tspan x="3452.5" dy="14.5">process</tspan></text></g>
<g id="triglyceride_bio" class="n lb"><rect x="3614" y="998" width="85" height="48"/><text x="3656.5" y="1012">triglyceride<tspan x="3656.5" dy="14.5">biosynthetic</tspan><tspan x="3656.5" dy="14.5">process</tspan></text></g>
<g id="purine_nbp_met" class="n"><rect x="3825" y="998" width="126" height="48"/><text x="3888" y="1012">purine nucleoside<tspan x="3888" dy="14.5">bisphosphate</tspan><tspan x="3888" dy="14.5">metabolic process</tspan></text></g>
<g id="ribonucleotide_bio" class="n"><rect x="2814" y="1104" width="97" height="48"/><text x="2862.5" y="1118">ribonucleotide<tspan x="2862.5" dy="14.5">biosynthetic</tspan><tspan x="2862.5" dy="14.5">process</tspan></text></g>
<g id="purine_rnt_met" class="n"><rect x="2952" y="1104" width="144" height="48"/><text x="3024" y="1125.25">purine ribonucleotide<tspan x="3024" dy="14.5">metabolic process</tspan></text></g>
<g id="purine_nt_bio" class="n"><rect x="3121" y="1104" width="117" height="48"/><text x="3179.5" y="1118">purine nucleotide<tspan x="3179.5" dy="14.5">biosynthetic</tspan><tspan x="3179.5" dy="14.5">process</tspan></text></g>
<g id="ribonucleoside_bp_bio" class="n"><rect x="3403" y="1096" width="100" height="64"/><text x="3453" y="1110.75">ribonucleoside<tspan x="3453" dy="14.5">bisphosphate</tspan><tspan x="3453" dy="14.5">biosynthetic</tspan><tspan x="3453" dy="14.5">process</tspan></text></g>
<g id="purine_nbp_bio" class="n"><rect x="3827" y="1096" width="121" height="64"/><text x="3887.5" y="1110.75">purine nucleoside<tspan x="3887.5" dy="14.5">bisphosphate</tspan><tspan x="3887.5" dy="14.5">biosynthetic</tspan><tspan x="3887.5" dy="14.5">process</tspan></text></g>
<g id="purine_rnt_bio" class="n"><rect x="3031" y="1224" width="143" height="48"/><text x="3102.5" y="1238">purine ribonucleotide<tspan x="3102.5" dy="14.5">biosynthetic</tspan><tspan x="3102.5" dy="14.5">process</tspan></text></g>
<g id="acyl_coa_met" class="n"><rect x="3499" y="1224" width="134" height="48"/><text x="3566" y="1245.25">acyl-CoA metabolic<tspan x="3566" dy="14.5">process</tspan></text></g>
<g id="acyl_coa_bio" class="n"><rect x="3493" y="1352" width="147" height="48"/><text x="3566.5" y="1373.25">acyl-CoA biosynthetic<tspan x="3566.5" dy="14.5">process</tspan></text></g>
<g id="fatty_acyl_coa_met" class="n"><rect x="2188" y="1352" width="127" height="48"/><text x="2251.5" y="1373.25">fatty-acyl-CoA<tspan x="2251.5" dy="14.5">metabolic process</tspan></text></g>
<g id="lc_fatty_acyl_coa_met" class="n"><rect x="2136" y="1465" width="172" height="48"/><text x="2222" y="1486.25">long-chain fatty-acyl-CoA<tspan x="2222" dy="14.5">metabolic process</tspan></text></g>
<g id="fatty_acyl_coa_bio" class="n"><rect x="2333" y="1465" width="99" height="48"/><text x="2382.5" y="1479">fatty-acyl-CoA<tspan x="2382.5" dy="14.5">biosynthetic</tspan><tspan x="2382.5" dy="14.5">process</tspan></text></g>
<g id="lc_fatty_acyl_coa_bio" class="n lb"><rect x="2217" y="1565" width="170" height="48"/><text x="2302" y="1579">long-chain fatty-acyl-CoA<tspan x="2302" dy="14.5">biosynthetic</tspan><tspan x="2302" dy="14.5">process</tspan></text></g>
<g id="developmental" class="n"><rect x="5210" y="101" width="105" height="48"/><text x="5262.5" y="122.25">developmental<tspan x="5262.5" dy="14.5">process</tspan></text></g>
<g id="multicell_org_proc" class="n"><rect x="5744" y="101" width="133" height="48"/><text x="5810.5" y="122.25">multicellular<tspan x="5810.5" dy="14.5">organismal process</tspan></text></g>
<g id="biological_regulation" class="n"><rect x="6587" y="101" width="138" height="48"/><text x="6656" y="129.5">biological regulation</text></g>
<g id="localization" class="n"><rect x="6750" y="101" width="81" height="48"/><text x="6790.5" y="129.5">localization</text></g>
<g id="anat_struct_dev" class="n"><rect x="5192" y="197" width="141" height="48"/><text x="5262.5" y="218.25">anatomical structure<tspan x="5262.5" dy="14.5">development</tspan></text></g>
<g id="establishment_loc" class="n"><rect x="6413" y="197" width="99" height="48"/><text x="6462.5" y="218.25">establishment<tspan x="6462.5" dy="14.5">of localization</tspan></text></g>
<g id="macromolecule_loc" class="n"><rect x="6915" y="197" width="108" height="48"/><text x="6969" y="218.25">macromolecule<tspan x="6969" dy="14.5">localization</tspan></text></g>
<g id="multicell_org_dev" class="n"><rect x="5300" y="294" width="158" height="48"/><text x="5379" y="315.25">multicellular<tspan x="5379" dy="14.5">organism development</tspan></text></g>
<g id="cellular_process" class="n"><rect x="5687" y="294" width="107" height="48"/><text x="5740.5" y="322.5">cellular process</text></g>
<g id="transport" class="n"><rect x="6444" y="294" width="71" height="48"/><text x="6479.5" y="322.5">transport</text></g>
<g id="reg_bio_proc" class="n"><rect x="6595" y="294" width="122" height="48"/><text x="6656" y="315.25">regulation of<tspan x="6656" dy="14.5">biological process</tspan></text></g>
<g id="cell_dev_proc" class="n"><rect x="5068" y="393" width="154" height="48"/><text x="5145" y="414.25">cellular developmental<tspan x="5145" dy="14.5">process</tspan></text></g>
<g id="system_dev" class="n"><rect x="5249" y="393" width="144" height="48"/><text x="5321" y="421.5">system development</text></g>
<g id="cell_pop_prolif" class="n"><rect x="5460" y="393" width="101" height="48"/><text x="5510.5" y="414.25">cell population<tspan x="5510.5" dy="14.5">proliferation</tspan></text></g>
<g id="ccob" class="n"><rect x="5607" y="393" width="129" height="48"/><text x="5671.5" y="407">cellular component<tspan x="5671.5" dy="14.5">organization</tspan><tspan x="5671.5" dy="14.5">or biogenesis</tspan></text></g>
<g id="org_subst_transport" class="n"><rect x="6330" y="393" width="123" height="48"/><text x="6391.5" y="414.25">organic substance<tspan x="6391.5" dy="14.5">transport</tspan></text></g>
<g id="import_into_cell" class="n"><rect x="6591" y="393" width="78" height="48"/><text x="6630" y="414.25">import into<tspan x="6630" dy="14.5">cell</tspan></text></g>
<g id="reg_localization" class="n"><rect x="6746" y="393" width="89" height="48"/><text x="6790.5" y="414.25">regulation of<tspan x="6790.5" dy="14.5">localization</tspan></text></g>
<g id="lipid_localization" class="n"><rect x="6930" y="393" width="113" height="48"/><text x="6986.5" y="421.5">lipid localization</text></g>
<g id="cell_diff" class="n"><rect x="5116" y="491" width="125" height="48"/><text x="5178.5" y="519.5">cell differentiation</text></g>
<g id="nervous_sys_dev" class="n"><rect x="5266" y="491" width="110" height="48"/><text x="5321" y="512.25">nervous system<tspan x="5321" dy="14.5">development</tspan></text></g>
<g id="cco" class="n"><rect x="5567" y="491" width="131" height="48"/><text x="5632.5" y="512.25">cellular component<tspan x="5632.5" dy="14.5">organization</tspan></text></g>
<g id="transmembrane_transport" class="n"><rect x="5792" y="491" width="110" height="48"/><text x="5847" y="512.25">transmembrane<tspan x="5847" dy="14.5">transport</tspan></text></g>
<g id="reg_cellular_proc" class="n"><rect x="5926" y="491" width="107" height="48"/><text x="5979.5" y="512.25">regulation of<tspan x="5979.5" dy="14.5">cellular process</tspan></text></g>
<g id="org_anion_transport" class="n"><rect x="6228" y="491" width="94" height="48"/><text x="6275" y="512.25">organic anion<tspan x="6275" dy="14.5">transport</tspan></text></g>
<g id="org_acid_transport" class="n"><rect x="6347" y="491" width="85" height="48"/><text x="6389.5" y="512.25">organic acid<tspan x="6389.5" dy="14.5">transport</tspan></text></g>
<g id="reg_transport" class="n"><rect x="6457" y="491" width="89" height="48"/><text x="6501.5" y="512.25">regulation of<tspan x="6501.5" dy="14.5">transport</tspan></text></g>
<g id="pos_reg_bio_proc" class="n"><rect x="6672" y="491" width="128" height="48"/><text x="6736" y="505">positive regulation<tspan x="6736" dy="14.5">of biological</tspan><tspan x="6736" dy="14.5">process</tspan></text></g>
<g id="lipid_transport" class="n"><rect x="6825" y="491" width="96" height="48"/><text x="6873" y="519.5">lipid transport</text></g>
<g id="reg_lipid_loc" class="n"><rect x="6946" y="491" width="112" height="48"/><text x="7002" y="512.25">regulation of<tspan x="7002" dy="14.5">lipid localization</tspan></text></g>
<g id="cell_dev" class="n"><rect x="4969" y="590" width="118" height="48"/><text x="5028" y="618.5">cell development</text></g>
<g id="neurogenesis" class="n"><rect x="5163" y="590" width="93" height="48"/><text x="5209.5" y="618.5">neurogenesis</text></g>
<g id="cell_proj_org" class="n"><rect x="5454" y="590" width="99" height="48"/><text x="5503.5" y="611.25">cell projection<tspan x="5503.5" dy="14.5">organization</tspan></text></g>
<g id="reg_cco" class="n"><rect x="5628" y="590" width="131" height="48"/><text x="5693.5" y="604">regulation of<tspan x="5693.5" dy="14.5">cellular component</tspan><tspan x="5693.5" dy="14.5">organization</tspan></text></g>
<g id="reg_tm_transport" class="n"><rect x="5885" y="590" width="110" height="48"/><text x="5940" y="604">regulation of<tspan x="5940" dy="14.5">transmembrane</tspan><tspan x="5940" dy="14.5">transport</tspan></text></g>
<g id="pos_reg_cell_proc" class="n"><rect x="6020" y="590" width="128" height="48"/><text x="6084" y="604">positive regulation<tspan x="6084" dy="14.5">of cellular</tspan><tspan x="6084" dy="14.5">process</tspan></text></g>
<g id="org_acid_tm_transport" class="n"><rect x="6174" y="590" width="109" height="48"/><text x="6228.5" y="604">organic acid<tspan x="6228.5" dy="14.5">transmembrane</tspan><tspan x="6228.5" dy="14.5">transport</tspan></text></g>
<g id="carboxylic_transport" class="n"><rect x="6308" y="590" width="104" height="48"/><text x="6360" y="611.25">carboxylic acid<tspan x="6360" dy="14.5">transport</tspan></text></g>
<g id="reg_org_acid_transport" class="n"><rect x="6488" y="590" width="88" height="48"/><text x="6532" y="604">regulation of<tspan x="6532" dy="14.5">organic acid</tspan><tspan x="6532" dy="14.5">transport</tspan></text></g>
<g id="pos_reg_transport" class="n"><rect x="6601" y="590" width="128" height="48"/><text x="6665" y="611.25">positive regulation<tspan x="6665" dy="14.5">of transport</tspan></text></g>
<g id="lipid_import" class="n"><rect x="6754" y="590" width="80" height="48"/><text x="6794" y="611.25">lipid import<tspan x="6794" dy="14.5">into cell</tspan></text></g>
<g id="reg_lipid_transport" class="n"><rect x="6911" y="590" width="97" height="48"/><text x="6959.5" y="611.25">regulation of<tspan x="6959.5" dy="14.5">lipid transport</tspan></text></g>
<g id="pos_reg_lipid_loc" class="n"><rect x="7084" y="590" width="130" height="48"/><text x="7149" y="611.25">positive regulation<tspan x="7149" dy="14.5">of lipid localization</tspan></text></g>
<g id="gen_neurons" class="n"><rect x="5148" y="689" width="93" height="48"/><text x="5194.5" y="710.25">generation of<tspan x="5194.5" dy="14.5">neurons</tspan></text></g>
<g id="neural_precursor" class="n"><rect x="5266" y="689" width="113" height="48"/><text x="5322.5" y="710.25">neural precursor<tspan x="5322.5" dy="14.5">cell proliferation</tspan></text></g>
<g id="pmbcpo" class="n"><rect x="5403" y="689" width="156" height="48"/><text x="5481" y="703">plasma membrane<tspan x="5481" dy="14.5">bounded cell</tspan><tspan x="5481" dy="14.5">projection organization</tspan></text></g>
<g id="reg_cpo" class="n"><rect x="5635" y="689" width="98" height="48"/><text x="5684" y="703">regulation of<tspan x="5684" dy="14.5">cell projection</tspan><tspan x="5684" dy="14.5">organization</tspan></text></g>
<g id="pos_reg_cco" class="n"><rect x="5759" y="689" width="162" height="48"/><text x="5840" y="703">positive regulation<tspan x="5840" dy="14.5">of cellular</tspan><tspan x="5840" dy="14.5">component organization</tspan></text></g>
<g id="pos_reg_tm_transport" class="n"><rect x="6048" y="689" width="128" height="48"/><text x="6112" y="703">positive regulation<tspan x="6112" dy="14.5">of transmembrane</tspan><tspan x="6112" dy="14.5">transport</tspan></text></g>
<g id="carboxylic_tm_transport" class="n"><rect x="6281" y="689" width="110" height="48"/><text x="6336" y="703">carboxylic acid<tspan x="6336" dy="14.5">transmembrane</tspan><tspan x="6336" dy="14.5">transport</tspan></text></g>
<g id="monocarboxylic_transport" class="n"><rect x="6416" y="689" width="109" height="48"/><text x="6470.5" y="710.25">monocarboxylic<tspan x="6470.5" dy="14.5">acid transport</tspan></text></g>
<g id="pos_reg_org_acid_transport" class="n"><rect x="6601" y="689" width="128" height="48"/><text x="6665" y="703">positive regulation<tspan x="6665" dy="14.5">of organic acid</tspan><tspan x="6665" dy="14.5">transport</tspan></text></g>
<g id="pos_reg_lipid_transport" class="n"><rect x="6933" y="689" width="128" height="48"/><text x="6997" y="710.25">positive regulation<tspan x="6997" dy="14.5">of lipid transport</tspan></text></g>
<g id="neuron_diff" class="n"><rect x="5065" y="794" width="146" height="48"/><text x="5138" y="822.5">neuron differentiation</text></g>
<g id="neuroblast_prolif" class="n cf"><rect x="5237" y="794" width="158" height="48"/><text x="5316" y="822.5">neuroblast proliferation</text></g>
<g id="reg_pmbcpo" class="n"><rect x="5471" y="786" width="155" height="64"/><text x="5548.5" y="800.75">regulation of<tspan x="5548.5" dy="14.5">plasma membrane</tspan><tspan x="5548.5" dy="14.5">bounded cell</tspan><tspan x="5548.5" dy="14.5">projection organization</tspan></text></g>
<g id="pos_reg_cpo" class="n"><rect x="5652" y="794" width="128" height="48"/><text x="5716" y="808">positive regulation<tspan x="5716" dy="14.5">of cell projection</tspan><tspan x="5716" dy="14.5">organization</tspan></text></g>
<g id="fa_transport" class="n lb"><rect x="6504" y="794" width="130" height="48"/><text x="6569" y="822.5">fatty acid transport</text></g>
<g id="import_across_pm" class="n"><rect x="6099" y="899" width="128" height="48"/><text x="6163" y="920.25">import across<tspan x="6163" dy="14.5">plasma membrane</tspan></text></g>
<g id="fa_tm_transport" class="n"><rect x="6254" y="899" width="175" height="48"/><text x="6341.5" y="920.25">fatty acid transmembrane<tspan x="6341.5" dy="14.5">transport</tspan></text></g>
<g id="lcfa_transport" class="n"><rect x="6504" y="899" width="109" height="48"/><text x="6558.5" y="920.25">long-chain fatty<tspan x="6558.5" dy="14.5">acid transport</tspan></text></g>
<g id="reg_fa_transport" class="n"><rect x="6688" y="899" width="130" height="48"/><text x="6753" y="920.25">regulation of<tspan x="6753" dy="14.5">fatty acid transport</tspan></text></g>
<g id="neuron_dev" class="n"><rect x="5068" y="899" width="141" height="48"/><text x="5138.5" y="927.5">neuron development</text></g>
<g id="lcfa_import" class="n"><rect x="6412" y="998" width="108" height="48"/><text x="6466" y="1012">long-chain fatty<tspan x="6466" dy="14.5">acid import</tspan><tspan x="6466" dy="14.5">into cell</tspan></text></g>
<g id="pos_reg_fa_transport" class="n"><rect x="6689" y="998" width="128" height="48"/><text x="6753" y="1012">positive regulation<tspan x="6753" dy="14.5">of fatty acid</tspan><tspan x="6753" dy="14.5">transport</tspan></text></g>
<g id="neuron_proj_dev" class="n"><rect x="5377" y="998" width="120" height="48"/><text x="5437" y="1019.25">neuron projection<tspan x="5437" dy="14.5">development</tspan></text></g>
<g id="lcfa_import_pm" class="n"><rect x="6287" y="1096" width="108" height="64"/><text x="6341" y="1110.75">long-chain fatty<tspan x="6341" dy="14.5">acid import</tspan><tspan x="6341" dy="14.5">across plasma</tspan><tspan x="6341" dy="14.5">membrane</tspan></text></g>
<g id="reg_lcfa_import" class="n"><rect x="6492" y="1096" width="109" height="64"/><text x="6546.5" y="1110.75">regulation of<tspan x="6546.5" dy="14.5">long-chain fatty</tspan><tspan x="6546.5" dy="14.5">acid import</tspan><tspan x="6546.5" dy="14.5">into cell</tspan></text></g>
<g id="reg_neuron_proj_dev" class="n"><rect x="5485" y="1104" width="120" height="48"/><text x="5545" y="1118">regulation of<tspan x="5545" dy="14.5">neuron projection</tspan><tspan x="5545" dy="14.5">development</tspan></text></g>
<g id="reg_lcfa_import_pm" class="n"><rect x="6206" y="1209" width="108" height="78"/><text x="6260" y="1223.5">regulation of<tspan x="6260" dy="14.5">long-chain fatty</tspan><tspan x="6260" dy="14.5">acid import</tspan><tspan x="6260" dy="14.5">across plasma</tspan><tspan x="6260" dy="14.5">membrane</tspan></text></g>
<g id="pos_reg_lcfa_import" class="n"><rect x="6401" y="1216" width="128" height="64"/><text x="6465" y="1230.75">positive regulation<tspan x="6465" dy="14.5">of long-chain</tspan><tspan x="6465" dy="14.5">fatty acid import</tspan><tspan x="6465" dy="14.5">into cell</tspan></text></g>
<g id="pos_reg_neuron_proj_dev" class="n lb"><rect x="5477" y="1224" width="136" height="48"/><text x="5545" y="1238">positive regulation<tspan x="5545" dy="14.5">of neuron projection</tspan><tspan x="5545" dy="14.5">development</tspan></text></g>
<g id="pos_reg_lcfa_import_pm" class="n lb"><rect x="6242" y="1337" width="127" height="78"/><text x="6305.5" y="1351.5">positive regulation<tspan x="6305.5" dy="14.5">of long-chain</tspan><tspan x="6305.5" dy="14.5">fatty acid import</tspan><tspan x="6305.5" dy="14.5">across plasma</tspan><tspan x="6305.5" dy="14.5">membrane</tspan></text></g>
</g>
</svg>
